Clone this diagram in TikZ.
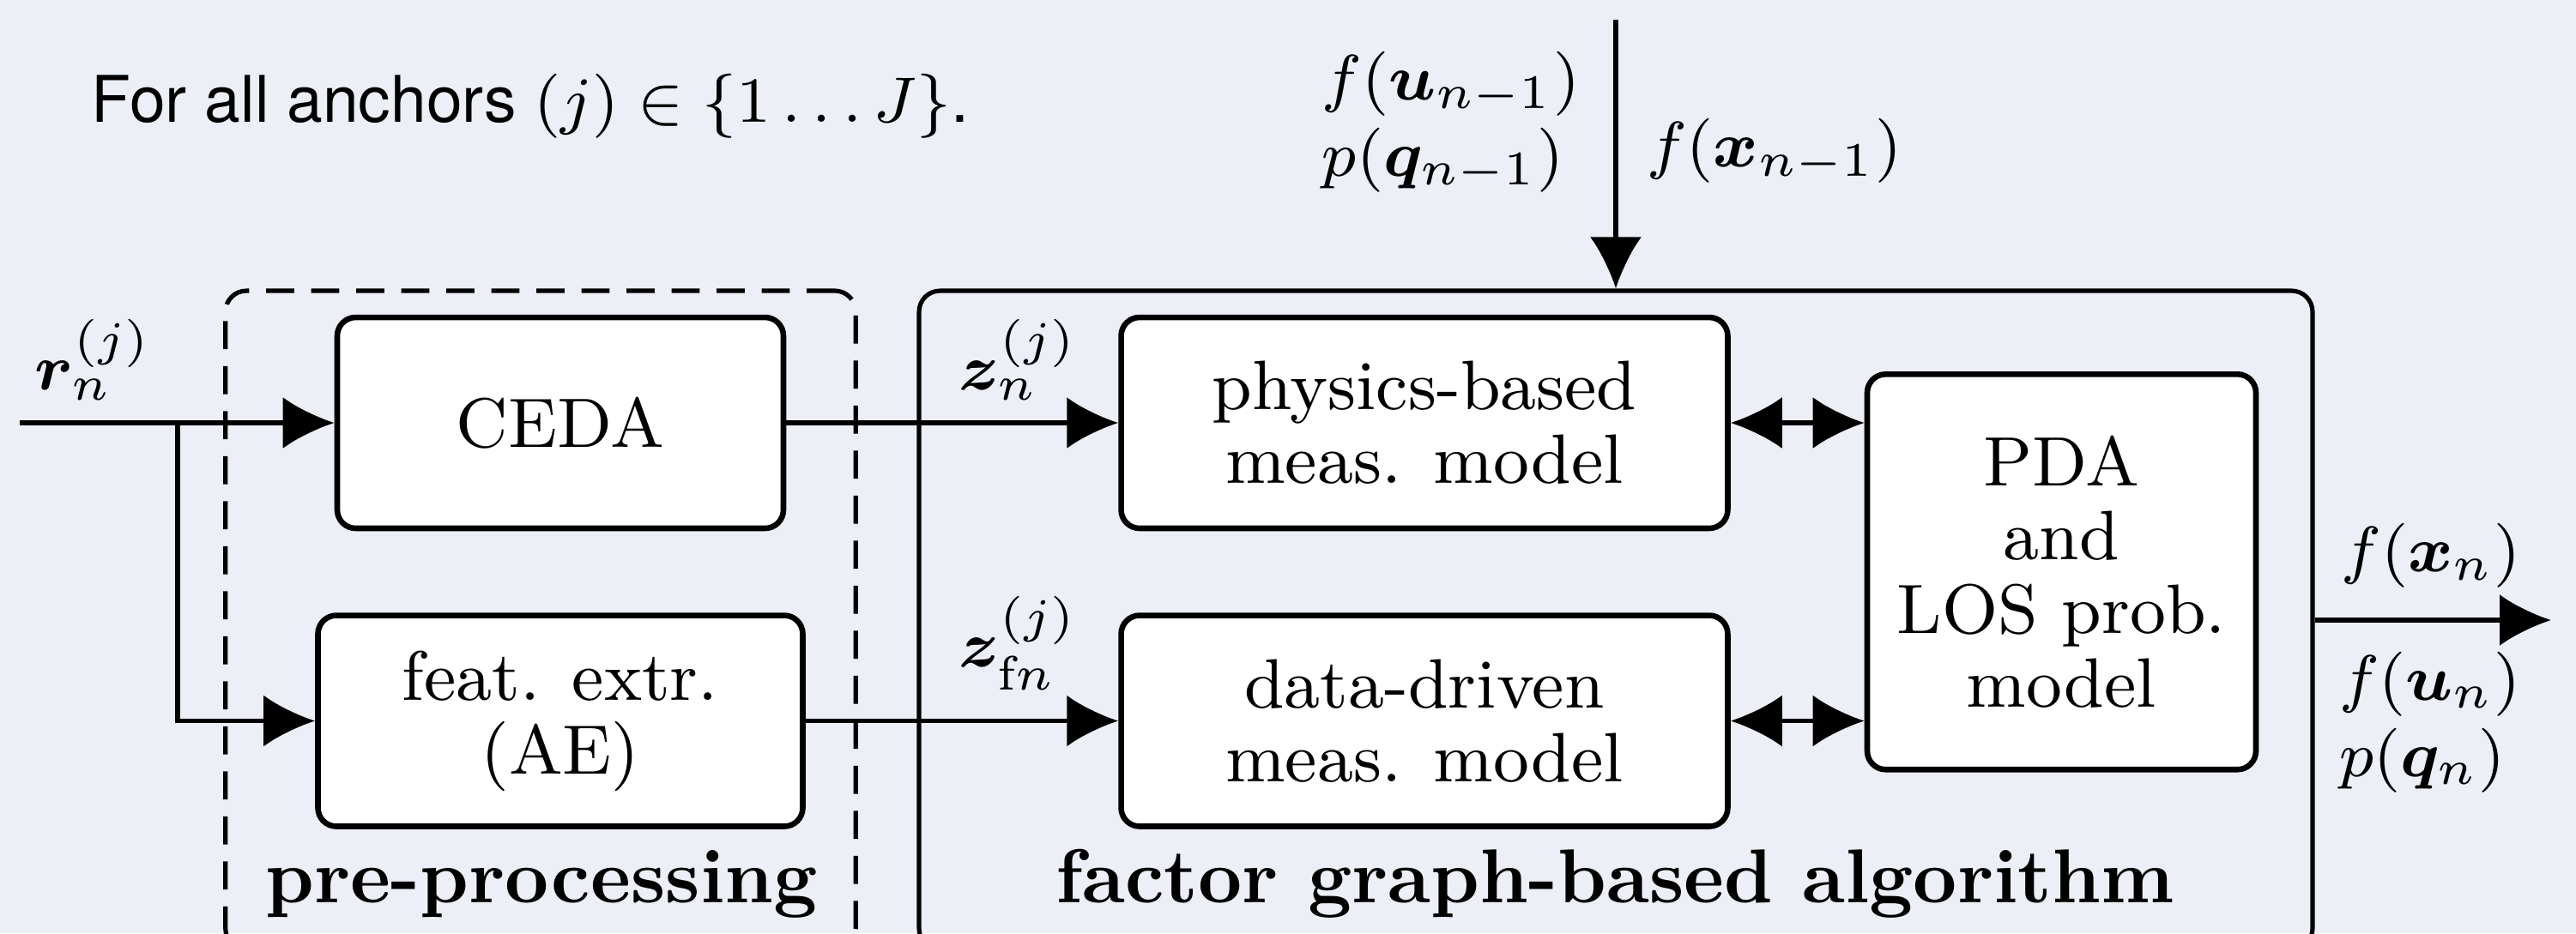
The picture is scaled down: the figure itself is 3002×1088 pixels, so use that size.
\documentclass[tikz,border=0pt]{standalone}
\usepackage{amsmath}
\usepackage{bm}
\usepackage{fontspec}
\newfontfamily\headfont{TeX Gyre Heros}
\usepackage{tikz}
\usetikzlibrary{positioning, calc, arrows.meta}

\definecolor{slidebg}{RGB}{236,239,246}

\tikzset{
    block/.style={draw, fill=white, rounded corners=2.3pt, line width=0.7pt, align=center, minimum height=26.24pt, font=\fontsize{8.7}{9.2}\selectfont},
    groupbox/.style={draw, rounded corners=2.6pt, line width=0.55pt, minimum height=81.92pt},
    grouplabel/.style={font=\fontsize{9.5}{11}\selectfont\bfseries, anchor=base, inner sep=0pt},
    sig/.style={inner sep=0pt},
    sigflow/.style={-{Latex[length=6.4pt,width=6.4pt]}, line width=0.55pt},
    msglink/.style={{Latex[length=6.4pt,width=6.4pt]}-{Latex[length=6.4pt,width=6.4pt]}, line width=0.55pt},
}

\begin{document}
\begin{tikzpicture}[x=0.10667pt, y=-0.10667pt, font=\footnotesize]
        \useasboundingbox (0,0) rectangle (3002,1088);
        \fill[slidebg] (0,0) rectangle (3002,1088);
        \clip (0,0) rectangle (3002,1088);

        % groups
        \node (prebox) [groupbox, dash pattern=on 3.5pt off 2.1pt, minimum width=78.35pt] at (630,723) {};
        \node (fgbox) [groupbox, minimum width=173.23pt] at (1883,723) {};

        % blocks
        \node (ceda) [block, minimum width=55.47pt] at (653,493) {CEDA};
        \node (feat) [block, minimum width=60.27pt, below=10.13pt of ceda] {feat. extr.\\(AE)};
        \node (phys) [block, minimum width=75.41pt, right=41.28pt of ceda] {physics-based\\meas. model};
        \node (data) [block, minimum width=75.41pt, below=10.13pt of phys] {data-driven\\meas. model};
        \coordinate (mid) at ($(phys.east)!0.5!(data.east)$);
        \node (pda) [block, minimum width=48.32pt, minimum height=49.17pt, right=16.64pt of mid] {PDA\\and\\LOS prob.\\model};

        % free ends
        \coordinate (input) at (23,493);
        \coordinate (split) at (207,493);
        \coordinate (prior) at (1883,23);
        \coordinate (output) at (2973,723);

        \foreach \i/\j in {input/ceda, ceda/phys, feat/data, prior/fgbox, fgbox/output} {
            \draw[sigflow] (\i) -- (\j);
        }
        \draw[sigflow] (split) |- (feat);
        \foreach \i in {phys, data} {
            \draw[msglink] (\i) -- (\i -| pda.west);
        }

        % labels
        \node (rlabel) [sig] at (109,419) {$\bm{r}_n^{(j)}$};
        \node (zlabel) [sig] at (1187,419) {$\bm{z}_n^{(j)}$};
        \node (zflabel) [sig] at (1187,750) {$\bm{z}_{\mathrm{f}n}^{(j)}$};
        \node (priorlabel) [sig, align=left] at (1691,142) {$f(\bm{u}_{n-1})$\\$p(\bm{q}_{n-1})$};
        \node (xpriorlabel) [sig] at (2068,176) {$f(\bm{x}_{n-1})$};
        \node (xlabel) [sig] at (2833,648) {$f(\bm{x}_n)$};
        \node (uqlabel) [sig, align=left] at (2832,842) {$f(\bm{u}_n)$\\$p(\bm{q}_n)$};
        \node (title) [sig, anchor=base west, font=\footnotesize\headfont] at (105,142) {For all anchors $(j) \in \{1 \ldots J\}$.};
        \node (prelabel) [grouplabel] at (631,1052) {pre-processing};
        \node (fglabel) [grouplabel] at (1882,1052) {factor graph-based algorithm};
\end{tikzpicture}
\end{document}
